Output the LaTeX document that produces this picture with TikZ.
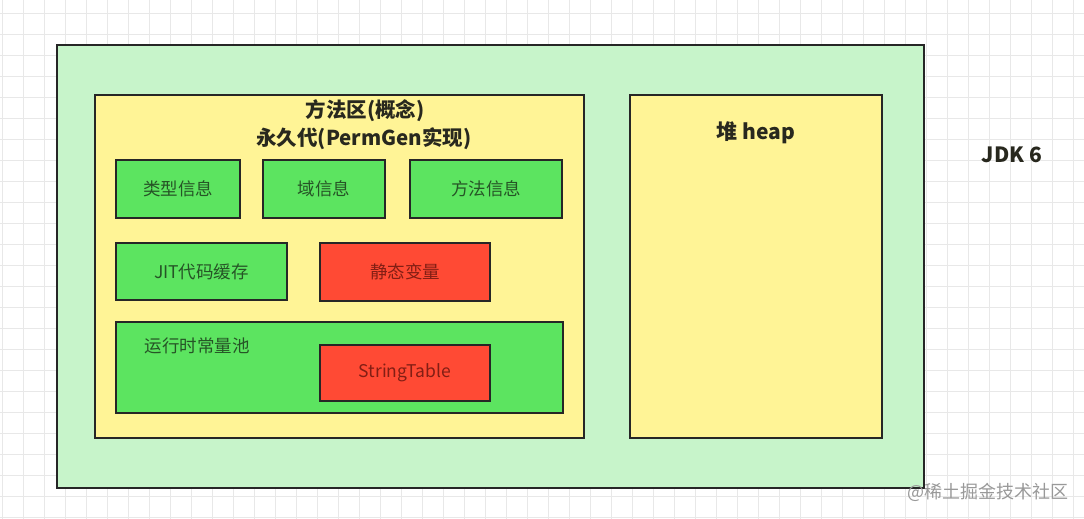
\documentclass[tikz,border=0pt]{standalone}
\usepackage{fontspec}
\setmainfont{Noto Sans CJK SC}
\definecolor{outerg}{RGB}{199,244,202}
\definecolor{yel}{RGB}{255,244,150}
\definecolor{grn}{RGB}{92,228,96}
\definecolor{rd}{RGB}{255,74,52}
\definecolor{gtext}{RGB}{38,84,38}
\definecolor{rtext}{RGB}{130,30,20}
\definecolor{ttext}{RGB}{40,40,30}
\definecolor{gridc}{RGB}{232,232,232}
\begin{document}
\begin{tikzpicture}[x=1pt,y=-1pt,
  panel/.style={draw=black!85,line width=1.8pt,inner sep=0pt},
  gbox/.style={panel,fill=grn,font=\fontsize{17.5}{20}\selectfont,text=gtext},
  rbox/.style={panel,fill=rd,font=\fontsize{17.5}{20}\selectfont,text=rtext},
  ttl/.style={font=\fontsize{20.5}{24}\selectfont\bfseries,text=ttext,inner sep=0pt}]
\useasboundingbox (0,0) rectangle (1084,519);
\fill[white] (0,0) rectangle (1084,519);
\foreach \i in {0,...,52} {\draw[gridc,line width=0.8pt] ({2.5+21*\i},0) -- ({2.5+21*\i},519);}
\foreach \j in {0,...,25} {\draw[gridc,line width=0.8pt] (0,{13+21*\j}) -- (1084,{13+21*\j});}
\node[panel,fill=outerg,minimum width=867pt,minimum height=443pt] (outer) at (490.5,266.5) {};
\node[panel,fill=yel,minimum width=489pt,minimum height=343pt] (method) at (339.5,266.5) {};
\node[panel,fill=yel,minimum width=252pt,minimum height=343pt] (heap) at (756,266.5) {};
\node[ttl] (t1) at (365,111) {方法区(概念)};
\node[ttl] (t2) at (364,139) {永久代(PermGen实现)};
\node[ttl,font=\fontsize{21}{24}\selectfont\bfseries] (th) at (756,133) {堆 heap};
\node[ttl,font=\fontsize{21}{24}\selectfont\bfseries] (jdk) at (1012,155) {JDK 6};
\node[gbox,minimum width=124pt,minimum height=58pt] (type) at (178,189) {类型信息};
\node[gbox,minimum width=122pt,minimum height=58pt] (field) at (324,189) {域信息};
\node[gbox,minimum width=152pt,minimum height=58pt] (meth) at (486,189) {方法信息};
\node[gbox,minimum width=171pt,minimum height=57pt] (jit) at (201.5,271.5) {JIT代码缓存};
\node[rbox,minimum width=170pt,minimum height=58pt] (static) at (405,272) {静态变量};
\node[gbox,minimum width=447pt,minimum height=91pt] (pool) at (339.5,367.5) {};
\node[font=\fontsize{17.5}{20}\selectfont,text=gtext,inner sep=0pt] (poollbl) at (197,346) {运行时常量池};
\node[rbox,minimum width=170pt,minimum height=56pt] (st) at (405,373) {StringTable};
\node[font=\fontsize{18}{20}\selectfont,text=black!40,inner sep=0pt] (wm) at (988,492) {@稀土掘金技术社区};
\end{tikzpicture}
\end{document}
